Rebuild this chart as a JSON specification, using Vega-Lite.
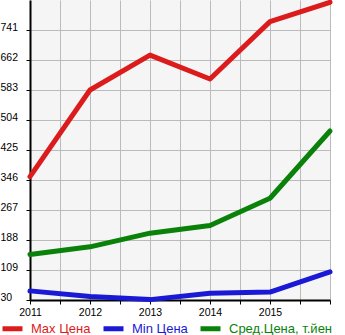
{
  "$schema": "https://vega.github.io/schema/vega-lite/v6.json",
  "width": 300,
  "height": 300,
  "autosize": {"type": "none"},
  "padding": {"left": 30, "top": 0, "right": 15, "bottom": 35},
  "background": "white",
  "config": {
    "view": {"fill": "#f5f5f5", "stroke": null},
    "font": "Liberation Sans"
  },
  "data": {
    "values": [
      {"year": 2011, "series": "Max Цена", "value": 355},
      {"year": 2012, "series": "Max Цена", "value": 583},
      {"year": 2013, "series": "Max Цена", "value": 675},
      {"year": 2014, "series": "Max Цена", "value": 612},
      {"year": 2015, "series": "Max Цена", "value": 763},
      {"year": 2016, "series": "Max Цена", "value": 814},
      {"year": 2011, "series": "Min Цена", "value": 54},
      {"year": 2012, "series": "Min Цена", "value": 39},
      {"year": 2013, "series": "Min Цена", "value": 31},
      {"year": 2014, "series": "Min Цена", "value": 48},
      {"year": 2015, "series": "Min Цена", "value": 51},
      {"year": 2016, "series": "Min Цена", "value": 104},
      {"year": 2011, "series": "Сред.Цена, т.йен", "value": 150},
      {"year": 2012, "series": "Сред.Цена, т.йен", "value": 170},
      {"year": 2013, "series": "Сред.Цена, т.йен", "value": 206},
      {"year": 2014, "series": "Сред.Цена, т.йен", "value": 226},
      {"year": 2015, "series": "Сред.Цена, т.йен", "value": 298},
      {"year": 2016, "series": "Сред.Цена, т.йен", "value": 475}
    ]
  },
  "mark": {"type": "line", "strokeWidth": 5, "strokeCap": "round", "strokeJoin": "round", "clip": false},
  "encoding": {
    "x": {
      "field": "year", "type": "quantitative",
      "scale": {"domain": [2011, 2016], "nice": false, "zero": false},
      "axis": {
        "title": null,
        "values": [2011, 2011.5, 2012, 2012.5, 2013, 2013.5, 2014, 2014.5, 2015, 2015.5, 2016],
        "labelExpr": "datum.value % 1 == 0 && datum.value < 2016 ? format(datum.value, 'd') : ''",
        "grid": true, "gridColor": "#bbbbbb", "gridWidth": 1, "gridOpacity": 1,
        "domainColor": "#000000", "domainWidth": 2,
        "tickColor": "#000000", "tickSize": 4, "tickWidth": 1,
        "labelFont": "Liberation Sans", "labelFontSize": 10.5, "labelColor": "#000000",
        "labelPadding": 3, "labelFlush": false, "labelOverlap": false
      }
    },
    "y": {
      "field": "value", "type": "quantitative",
      "scale": {"domain": [30, 820], "nice": false, "zero": false},
      "axis": {
        "title": null,
        "values": [30, 109, 188, 267, 346, 425, 504, 583, 662, 741],
        "grid": true, "gridColor": "#bbbbbb", "gridWidth": 1, "gridOpacity": 1,
        "domainColor": "#000000", "domainWidth": 2,
        "tickColor": "#000000", "tickSize": 4, "tickWidth": 1,
        "labelFont": "Liberation Sans", "labelFontSize": 10.5, "labelColor": "#000000",
        "labelAlign": "left", "labelBaseline": "alphabetic", "labelPadding": 26,
        "labelFlush": false, "labelOverlap": false
      }
    },
    "color": {
      "field": "series", "type": "nominal",
      "scale": {"domain": ["Max Цена", "Min Цена", "Сред.Цена, т.йен"], "range": ["#dc1c1c", "#1a1ad6", "#0a820a"]},
      "legend": {
        "title": null,
        "orient": "none",
        "legendX": -30,
        "legendY": 316,
        "padding": 0,
        "direction": "horizontal",
        "symbolType": "stroke",
        "symbolStrokeWidth": 5,
        "symbolSize": 400,
        "labelFont": "Liberation Sans",
        "labelFontSize": 13,
        "labelOffset": 6,
        "columnPadding": 2,
        "labelLimit": 200,
        "encode": {"labels": {"update": {"fill": {"scale": "color", "field": "value"}}}}
      }
    }
  }
}
